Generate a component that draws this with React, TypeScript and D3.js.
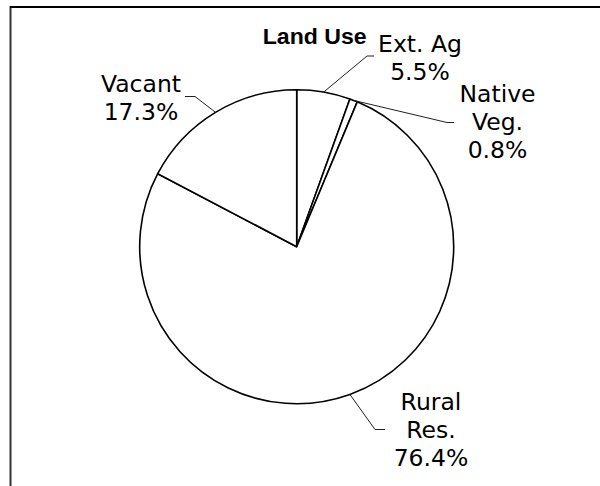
import React from "react";
import * as d3 from "d3";

const categories = ["Ext. Ag", "Native Veg.", "Rural Res.", "Vacant"];
const values = [5.5, 0.8, 76.4, 17.3];
const labelLines = [["Ext. Ag", "5.5%"], ["Native", "Veg.", "0.8%"], ["Rural", "Res.", "76.4%"], ["Vacant", "17.3%"]];
const title = "Land Use";

// layout (label anchors & leader elbows)
const labelLayout = [
  { tx: 420, ty: 52, elbow: [367, 56], end: [374, 56] },
  { tx: 497.5, ty: 102, elbow: [447, 122.5], end: [454, 122.5] },
  { tx: 431, ty: 410, elbow: [375, 429.5], end: [385, 429.5] },
  { tx: 141, ty: 92, elbow: [195, 96.5], end: [185, 96.5] },
];

export default function App() {
  const cx = 296.7, cy = 246.7, r = 157;
  const pie = d3.pie<number>().sort(null).value((d) => d);
  const arcs = pie(values);
  const arcGen = d3.arc<d3.PieArcDatum<number>>().innerRadius(0).outerRadius(r);
  const lineH = 28;
  return (
    <svg width={600} height={486} style={{ position: "absolute", left: 0, top: 0, background: "#fff" }}>
      <rect x={0} y={0} width={600} height={486} fill="#fff" />
      <line x1={10.5} y1={6} x2={10.5} y2={486} stroke="#333" strokeWidth={2} />
      <line x1={10} y1={7} x2={600} y2={7} stroke="#000" strokeWidth={2} />
      <g transform={`translate(${cx},${cy})`}>
        {arcs.map((a, i) => (
          <path key={categories[i]} d={arcGen(a) || ""} fill="#fff" stroke="#000" strokeWidth={1.6} strokeLinejoin="round" />
        ))}
      </g>
      {arcs.map((a, i) => {
        const mid = (a.startAngle + a.endAngle) / 2;
        const px = cx + r * Math.sin(mid);
        const py = cy - r * Math.cos(mid);
        const L = labelLayout[i];
        return (
          <g key={"lbl" + i}>
            <polyline points={`${px},${py} ${L.elbow[0]},${L.elbow[1]} ${L.end[0]},${L.end[1]}`} fill="none" stroke="#222" strokeWidth={1} />
            {labelLines[i].map((t, j) => (
              <text key={j} x={L.tx} y={L.ty + j * lineH} textAnchor="middle" fontFamily="DejaVu Sans, Verdana, sans-serif" fontSize={23.5} fill="#000">
                {t}
              </text>
            ))}
          </g>
        );
      })}
      <text x={314.7} y={43.5} textAnchor="middle" fontFamily="Liberation Sans, Arial, sans-serif" fontWeight="bold" fontSize={22.5} fill="#000" textLength={104} lengthAdjust="spacingAndGlyphs">
        {title}
      </text>
    </svg>
  );
}
